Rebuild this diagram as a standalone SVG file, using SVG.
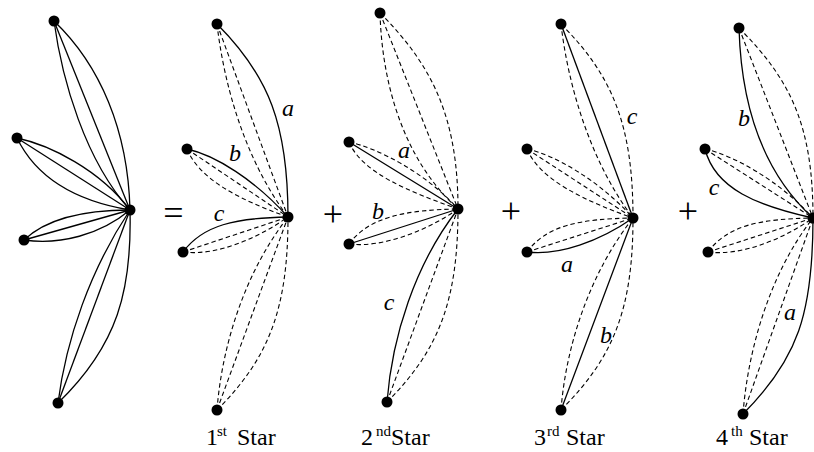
<svg xmlns="http://www.w3.org/2000/svg" width="814" height="452" viewBox="0 0 814 452">
<style>
.e{fill:none;stroke:#000;stroke-width:1.3}
.d{fill:none;stroke:#000;stroke-width:1.1;stroke-dasharray:4.5 3}
.n{fill:#000}
.lab{font-family:"Liberation Serif",serif;font-style:italic;font-size:24px;text-anchor:middle}
.cap{font-family:"Liberation Serif",serif;font-size:24px}
.sup{font-size:15px}
.op{font-family:"Liberation Serif",serif;font-size:36px;text-anchor:middle}
</style>
<rect width="814" height="452" fill="#fff"/>
<g id="connectors">
<!-- full graph -->
<path class="e" d="M54,21 L130,210"/>
<path class="e" d="M54,21 C62,80 85,160 130,210"/>
<path class="e" d="M54,21 C100,65 128,130 130,210"/>
<path class="e" d="M17,138 L130,210"/>
<path class="e" d="M17,138 C50,145 100,170 130,210"/>
<path class="e" d="M17,138 C35,175 70,200 130,210"/>
<path class="e" d="M24,240 L130,210"/>
<path class="e" d="M24,240 C45,220 80,210 130,210"/>
<path class="e" d="M24,240 C60,245 100,235 130,210"/>
<path class="e" d="M58,403 L130,210"/>
<path class="e" d="M58,403 C66,340 90,270 130,210"/>
<path class="e" d="M58,403 C118,345 132,290 130,210"/>
<!-- star 1 -->
<path class="e" d="M217,24 C269,76 288,125 288,217"/>
<path class="d" d="M217,24 L288,217"/>
<path class="d" d="M217,24 C224,85 245,160 288,217"/>
<path class="e" d="M187,149 C215,155 255,180 288,217"/>
<path class="d" d="M187,149 L288,217"/>
<path class="d" d="M187,149 C200,180 240,200 288,217"/>
<path class="e" d="M183,252 C203,225 235,218 288,217"/>
<path class="d" d="M183,252 L288,217"/>
<path class="d" d="M183,252 C215,256 255,240 288,217"/>
<path class="d" d="M217,410 C269,358 288,309 288,217"/>
<path class="d" d="M217,410 L288,217"/>
<path class="d" d="M217,410 C222,345 245,272 288,217"/>
<!-- star 2 -->
<path class="d" d="M380,13 C432,65 458,117 458,209"/>
<path class="d" d="M380,13 L458,209"/>
<path class="d" d="M380,13 C382,83 403,159 458,209"/>
<path class="d" d="M349,142 C377,148 425,172 458,209"/>
<path class="e" d="M349,142 L458,209"/>
<path class="d" d="M349,142 C362,173 410,192 458,209"/>
<path class="d" d="M349,244 C369,217 405,210 458,209"/>
<path class="e" d="M349,244 L458,209"/>
<path class="d" d="M349,244 C381,248 425,232 458,209"/>
<path class="e" d="M387,402 C392,337 415,264 458,209"/>
<path class="d" d="M387,402 L458,209"/>
<path class="d" d="M387,402 C439,350 458,301 458,209"/>
<!-- star 3 -->
<path class="e" d="M561,24 L633,218"/>
<path class="d" d="M561,24 C568,85 590,161 633,218"/>
<path class="d" d="M561,24 C613,76 633,126 633,218"/>
<path class="d" d="M527,149 C555,155 600,181 633,218"/>
<path class="d" d="M527,149 L633,218"/>
<path class="d" d="M527,149 C540,180 585,201 633,218"/>
<path class="d" d="M527,252 C547,225 580,219 633,218"/>
<path class="d" d="M527,252 L633,218"/>
<path class="e" d="M527,252 C559,256 600,241 633,218"/>
<path class="e" d="M561,410 L633,218"/>
<path class="d" d="M561,410 C566,345 590,273 633,218"/>
<path class="d" d="M561,410 C613,358 633,310 633,218"/>
<!-- star 4 -->
<path class="e" d="M739,28 C741,98 758,168 813,218"/>
<path class="d" d="M739,28 L813,218"/>
<path class="d" d="M739,28 C791,80 813,126 813,218"/>
<path class="d" d="M705,149 C733,155 780,181 813,218"/>
<path class="d" d="M705,149 L813,218"/>
<path class="e" d="M705,149 C715,189 758,206 813,218"/>
<path class="d" d="M708,252 C728,225 760,219 813,218"/>
<path class="d" d="M708,252 L813,218"/>
<path class="d" d="M708,252 C740,256 780,241 813,218"/>
<path class="e" d="M743,414 C798,359 813,313 813,218"/>
<path class="d" d="M743,414 L813,218"/>
<path class="d" d="M743,414 C748,349 770,273 813,218"/>
</g>
<g id="edge-labels">
<text class="lab" x="288" y="116">a</text>
<text class="lab" x="235" y="161">b</text>
<text class="lab" x="219" y="221">c</text>
<text class="lab" x="404" y="158">a</text>
<text class="lab" x="378" y="219">b</text>
<text class="lab" x="389" y="310">c</text>
<text class="lab" x="632" y="124">c</text>
<text class="lab" x="567" y="272">a</text>
<text class="lab" x="606" y="343">b</text>
<text class="lab" x="744" y="126">b</text>
<text class="lab" x="714" y="195">c</text>
<text class="lab" x="790" y="320">a</text>
</g>
<g id="operators">
<text class="op" x="173.5" y="225">=</text>
<text class="op" x="333" y="226">+</text>
<text class="op" x="511" y="223">+</text>
<text class="op" x="688" y="223">+</text>
</g>
<g id="captions">
<text class="cap" y="445"><tspan x="206">1</tspan><tspan class="sup" x="217" y="436">st</tspan><tspan x="237" y="445">Star</tspan></text>
<text class="cap" y="445"><tspan x="361">2</tspan><tspan class="sup" x="376" y="436">nd</tspan><tspan x="391" y="445">Star</tspan></text>
<text class="cap" y="445"><tspan x="534">3</tspan><tspan class="sup" x="547" y="436">rd</tspan><tspan x="566" y="445">Star</tspan></text>
<text class="cap" y="445"><tspan x="716">4</tspan><tspan class="sup" x="731" y="436">th</tspan><tspan x="749" y="445">Star</tspan></text>
</g>
<g id="g0-top"><circle class="n" cx="54" cy="21" r="5.5"/></g>
<g id="g0-midleft"><circle class="n" cx="17" cy="138" r="5.5"/></g>
<g id="g0-lowleft"><circle class="n" cx="24" cy="240" r="5.5"/></g>
<g id="g0-bottom"><circle class="n" cx="58" cy="403" r="5.5"/></g>
<g id="g0-center"><circle class="n" cx="130" cy="210" r="5.5"/></g>
<g id="s1-top"><circle class="n" cx="217" cy="24" r="5.5"/></g>
<g id="s1-midleft"><circle class="n" cx="187" cy="149" r="5.5"/></g>
<g id="s1-lowleft"><circle class="n" cx="183" cy="252" r="5.5"/></g>
<g id="s1-bottom"><circle class="n" cx="217" cy="410" r="5.5"/></g>
<g id="s1-center"><circle class="n" cx="288" cy="217" r="5.5"/></g>
<g id="s2-top"><circle class="n" cx="380" cy="13" r="5.5"/></g>
<g id="s2-midleft"><circle class="n" cx="349" cy="142" r="5.5"/></g>
<g id="s2-lowleft"><circle class="n" cx="349" cy="244" r="5.5"/></g>
<g id="s2-bottom"><circle class="n" cx="387" cy="402" r="5.5"/></g>
<g id="s2-center"><circle class="n" cx="458" cy="209" r="5.5"/></g>
<g id="s3-top"><circle class="n" cx="561" cy="24" r="5.5"/></g>
<g id="s3-midleft"><circle class="n" cx="527" cy="149" r="5.5"/></g>
<g id="s3-lowleft"><circle class="n" cx="527" cy="252" r="5.5"/></g>
<g id="s3-bottom"><circle class="n" cx="561" cy="410" r="5.5"/></g>
<g id="s3-center"><circle class="n" cx="633" cy="218" r="5.5"/></g>
<g id="s4-top"><circle class="n" cx="739" cy="28" r="5.5"/></g>
<g id="s4-midleft"><circle class="n" cx="705" cy="149" r="5.5"/></g>
<g id="s4-lowleft"><circle class="n" cx="708" cy="252" r="5.5"/></g>
<g id="s4-bottom"><circle class="n" cx="743" cy="414" r="5.5"/></g>
<g id="s4-center"><circle class="n" cx="813" cy="218" r="5.5"/></g>
</svg>
